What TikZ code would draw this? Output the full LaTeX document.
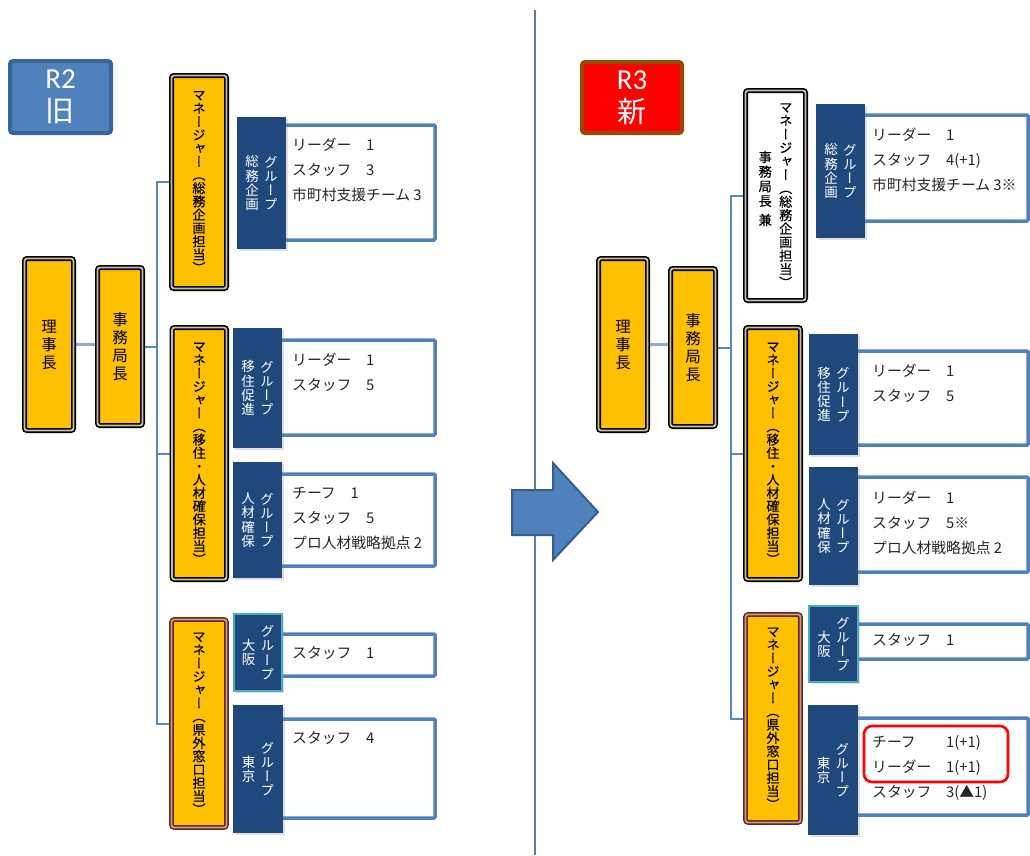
\documentclass[tikz,border=0pt]{standalone}
\usepackage{fontspec}
\setmainfont{Noto Sans CJK JP}
\newfontfamily\tatefont[RawFeature=+vert]{Noto Sans CJK JP}
\newfontfamily\tateheavy[RawFeature=+vert, FakeBold=0.3]{Noto Sans CJK JP}
\newfontfamily\latinfont{Carlito}
\usetikzlibrary{shadows}

\definecolor{boxyellow}{HTML}{FFC000}
\definecolor{bandtan}{HTML}{C9C0A0}
\definecolor{bandgray}{HTML}{C0C0C0}
\definecolor{brownline}{HTML}{632523}
\definecolor{bandbrown}{HTML}{C8A078}
\definecolor{grpblue}{HTML}{1F497D}
\definecolor{tealedge}{HTML}{4BACC6}
\definecolor{cblue}{HTML}{4F81BD}
\definecolor{lineblue}{HTML}{5A86BF}
\definecolor{paleline}{HTML}{8FAAD6}
\definecolor{divline}{HTML}{5B7DA8}
\definecolor{titleblue}{HTML}{4F81BD}
\definecolor{titleedge}{HTML}{3A659A}
\definecolor{titlered}{HTML}{FF0000}
\definecolor{titlebrown}{HTML}{984807}
\definecolor{arrowfill}{HTML}{4F81BD}
\definecolor{arrowedge}{HTML}{385D8A}
\definecolor{ink}{HTML}{262626}

\pgfdeclarelayer{background}
\pgfsetlayers{background,main}

% vertical (tate-gaki) stack of characters: #1 pitch, #2 characters
\makeatletter
\newcommand\tate[2]{\ensuremath{\vcenter{\baselineskip=#1\lineskiplimit=-100pt\lineskip=0pt
  \@tfor\tch:=#2\do{\hbox to 1.1em{\hss\tch\hss}}}}}
\makeatother
\newcommand\tch[1]{\hbox to 1.1em{\hss#1\hss}}

% rectangle node given by its corner coordinates
\newcommand\rectnode[6][]{%
  \pgfmathsetmacro\rnw{#5-#3}%
  \pgfmathsetmacro\rnh{#6-#4}%
  \node[#1, minimum width=\rnw pt, minimum height=\rnh pt, anchor=north west] (#2) at (#3,#4)}

\tikzset{
  base/.style={rectangle, inner sep=0pt, outer sep=0pt},
  title/.style={base, line width=4pt, rounded corners=3pt, text=white, align=center,
    font=\fontsize{29}{33}\selectfont},
  topbox/.style={base, fill=boxyellow, draw=black, line width=1.6pt, double=bandtan,
    double distance=1.8pt, rounded corners=2.5pt, font=\tatefont\fontsize{15.5}{18}\selectfont},
  mgrbox/.style={topbox, font=\tateheavy\fontsize{13.2}{13.3}\selectfont},
  mgrwhite/.style={mgrbox, fill=white, double=bandgray},
  mgrbrown/.style={mgrbox, draw=brownline, line width=1.4pt, double=bandbrown},
  grplabel/.style={base, fill=grpblue, text=white, font=\tatefont\fontsize{13.5}{14}\selectfont,
    drop shadow={shadow xshift=1.5pt, shadow yshift=-2pt, opacity=0.25}},
  grpteal/.style={grplabel, draw=tealedge, line width=2pt},
  cbox/.style={base, draw=cblue, line width=3.5pt, fill=white, rounded corners=1pt},
  ctext/.style={anchor=north west, inner sep=0pt, align=left, text=ink,
    font=\fontsize{14.8}{25}\selectfont},
  hilite/.style={base, draw=red, line width=2.6pt, rounded corners=8pt},
  conn/.style={draw=lineblue, line width=2pt},
  headconn/.style={draw=paleline, line width=2.5pt},
}

\newcommand\st{\rule{0pt}{13.5pt}}

\begin{document}
\begin{tikzpicture}[x=1pt,y=-1pt]
\useasboundingbox (0,0) rectangle (1030,855);

% dividing line and transition arrow
\coordinate (divtop) at (535,10);
\coordinate (divbot) at (535,855);
\draw[divline, line width=2pt] (divtop) -- (divbot);
\filldraw[fill=arrowfill, draw=arrowedge, line width=2pt, line join=miter]
  (512,490) -- (553,490) -- (553,463) -- (598,512) -- (553,560) -- (553,535) -- (512,535) -- cycle;

% ===== R2 (old) =====
\rectnode[title, fill=titleblue, draw=titleedge]{ttlL}{10}{61}{111}{133}{{\latinfont R2}\\旧};

\rectnode[topbox]{Lriji}{24.5}{258.5}{73.5}{430.5}{\tate{18pt}{理事長}};
\rectnode[topbox]{Ljimu}{97.5}{267.5}{142.5}{425.5}{\tate{18pt}{事務局長}};

\rectnode[mgrbox]{Lm1}{171.5}{75.5}{226.5}{288.5}{\tate{13.3pt}{マネージャー（総務企画担当）}};
\rectnode[mgrbox]{Lm2}{172}{327.5}{226.5}{579.5}{\tate{13.3pt}{マネージャー（移住・人材確保担当）}};
\rectnode[mgrbrown]{Lm3}{171.5}{619.5}{226.5}{827.5}{\tate{13.3pt}{マネージャー（県外窓口担当）}};

\rectnode[cbox]{Lc1}{270}{125}{435}{240}{};
\rectnode[cbox]{Lc2}{270}{340}{435}{435}{};
\rectnode[cbox]{Lc3}{270}{474}{435}{566}{};
\rectnode[cbox]{Lc4}{270}{634}{435}{676}{};
\rectnode[cbox]{Lc5}{270}{719}{435}{818}{};

\rectnode[grplabel]{Lg1}{237}{117}{286}{249}{\tate{14.2pt}{総務企画}\hspace{4pt}\tate{14.2pt}{グループ}};
\rectnode[grplabel]{Lg2}{233}{328}{282}{448}{\tate{14.2pt}{移住促進}\hspace{4pt}\tate{14.2pt}{グループ}};
\rectnode[grplabel]{Lg3}{233}{462}{282}{578}{\tate{14.2pt}{人材確保}\hspace{4pt}\tate{14.2pt}{グループ}};
\rectnode[grpteal]{Lg4}{234}{614}{282}{691}{\tate{14.2pt}{大阪}\hspace{4pt}\tate{14.2pt}{グループ}};
\rectnode[grplabel]{Lg5}{233}{705}{283}{833}{\tate{14.2pt}{東京}\hspace{4pt}\tate{14.2pt}{グループ}};

\node[ctext] (Lt1) at (292,137) {\st リーダー　1\\\st スタッフ　3\\\st 市町村支援チーム 3};
\node[ctext] (Lt2) at (292,352) {\st リーダー　1\\\st スタッフ　5};
\node[ctext] (Lt3) at (292,485) {\st チーフ　1\\\st スタッフ　5\\\st プロ人材戦略拠点 2};
\node[ctext] (Lt4) at (292,645) {\st スタッフ　1};
\node[ctext] (Lt5) at (292,730) {\st スタッフ　4};

% ===== R3 (new) =====
\rectnode[title, fill=titlered, draw=titlebrown]{ttlR}{582}{62}{682}{133}{{\latinfont R3}\\新};

\rectnode[topbox]{Rriji}{598.5}{258.5}{647.5}{430.5}{\tate{18pt}{理事長}};
\rectnode[topbox]{Rjimu}{670.5}{268.5}{715.5}{426.5}{\tate{18pt}{事務局長}};

% second column: 事務局長 兼 (short gap before 兼), sitting slightly above centre
\rectnode[mgrwhite]{Rm1}{745.5}{90.5}{805.5}{300.5}{%
  \raisebox{7pt}{\ensuremath{\vcenter{\baselineskip=14.6pt\lineskiplimit=-100pt\lineskip=0pt
    \tch{事}\tch{務}\tch{局}\tch{長}\vskip 4.5pt\tch{兼}}}}%
  \hspace{6pt}\tate{13.5pt}{マネージャー（総務企画担当）}};
\rectnode[mgrbox]{Rm2}{745.5}{327.5}{800.5}{579.5}{\tate{13.3pt}{マネージャー（移住・人材確保担当）}};
\rectnode[mgrbrown]{Rm3}{745.5}{614.5}{800.5}{822.5}{\tate{13.3pt}{マネージャー（県外窓口担当）}};

\rectnode[cbox]{Rc1}{845}{115}{1028}{221}{};
\rectnode[cbox]{Rc2}{840}{351}{1028}{445}{};
\rectnode[cbox]{Rc3}{840}{477}{1028}{572}{};
\rectnode[cbox]{Rc4}{840}{624}{1028}{659}{};
\rectnode[cbox]{Rc5}{840}{718}{1028}{815}{};

\rectnode[grplabel]{Rg1}{816}{104}{865}{238}{\tate{14.2pt}{総務企画}\hspace{4pt}\tate{14.2pt}{グループ}};
\rectnode[grplabel]{Rg2}{809}{334}{858}{455}{\tate{14.2pt}{移住促進}\hspace{4pt}\tate{14.2pt}{グループ}};
\rectnode[grplabel]{Rg3}{809}{467}{858}{585}{\tate{14.2pt}{人材確保}\hspace{4pt}\tate{14.2pt}{グループ}};
\rectnode[grpteal]{Rg4}{809}{606}{858}{682}{\tate{14.2pt}{大阪}\hspace{4pt}\tate{14.2pt}{グループ}};
\rectnode[grplabel]{Rg5}{808}{705}{858}{835}{\tate{14.2pt}{東京}\hspace{4pt}\tate{14.2pt}{グループ}};

\node[ctext] (Rt1) at (872,127) {\st リーダー　1\\\st スタッフ　4(+1)\\\st 市町村支援チーム 3※};
\node[ctext] (Rt2) at (872,363) {\st リーダー　1\\\st スタッフ　5};
\node[ctext] (Rt3) at (872,490) {\st リーダー　1\\\st スタッフ　5※\\\st プロ人材戦略拠点 2};
\node[ctext] (Rt4) at (872,632) {\st スタッフ　1};
\node[ctext] (Rt5) at (872,734) {\st\makebox[4em][l]{チーフ}　1(+1)\\\st リーダー　1(+1)\\\st スタッフ　3(▲1)};

\rectnode[hilite]{hl}{864}{726}{1008}{782}{};

% ===== connectors =====
\coordinate (Lbus) at (157,346);
\coordinate (Rbus) at (731,347);
\begin{pgfonlayer}{background}
  \draw[headconn] (Lriji.east) -- (Lriji.east -| Ljimu.west);
  \draw[conn] (Ljimu.east) -- (Ljimu.east -| Lbus);
  \draw[conn] (Lm1.west) -- (Lm1.west -| Lbus) -- (Lm3.west -| Lbus) -- (Lm3.west);
  \draw[conn] (Lm2.west) -- (Lm2.west -| Lbus);

  \draw[headconn] (Rriji.east) -- (Rriji.east -| Rjimu.west);
  \draw[conn] (Rjimu.east) -- (Rjimu.east -| Rbus);
  \draw[conn] (Rm1.west) -- (Rm1.west -| Rbus) -- (Rm3.west -| Rbus) -- (Rm3.west);
  \draw[conn] (Rm2.west) -- (Rm2.west -| Rbus);
\end{pgfonlayer}
\end{tikzpicture}
\end{document}
